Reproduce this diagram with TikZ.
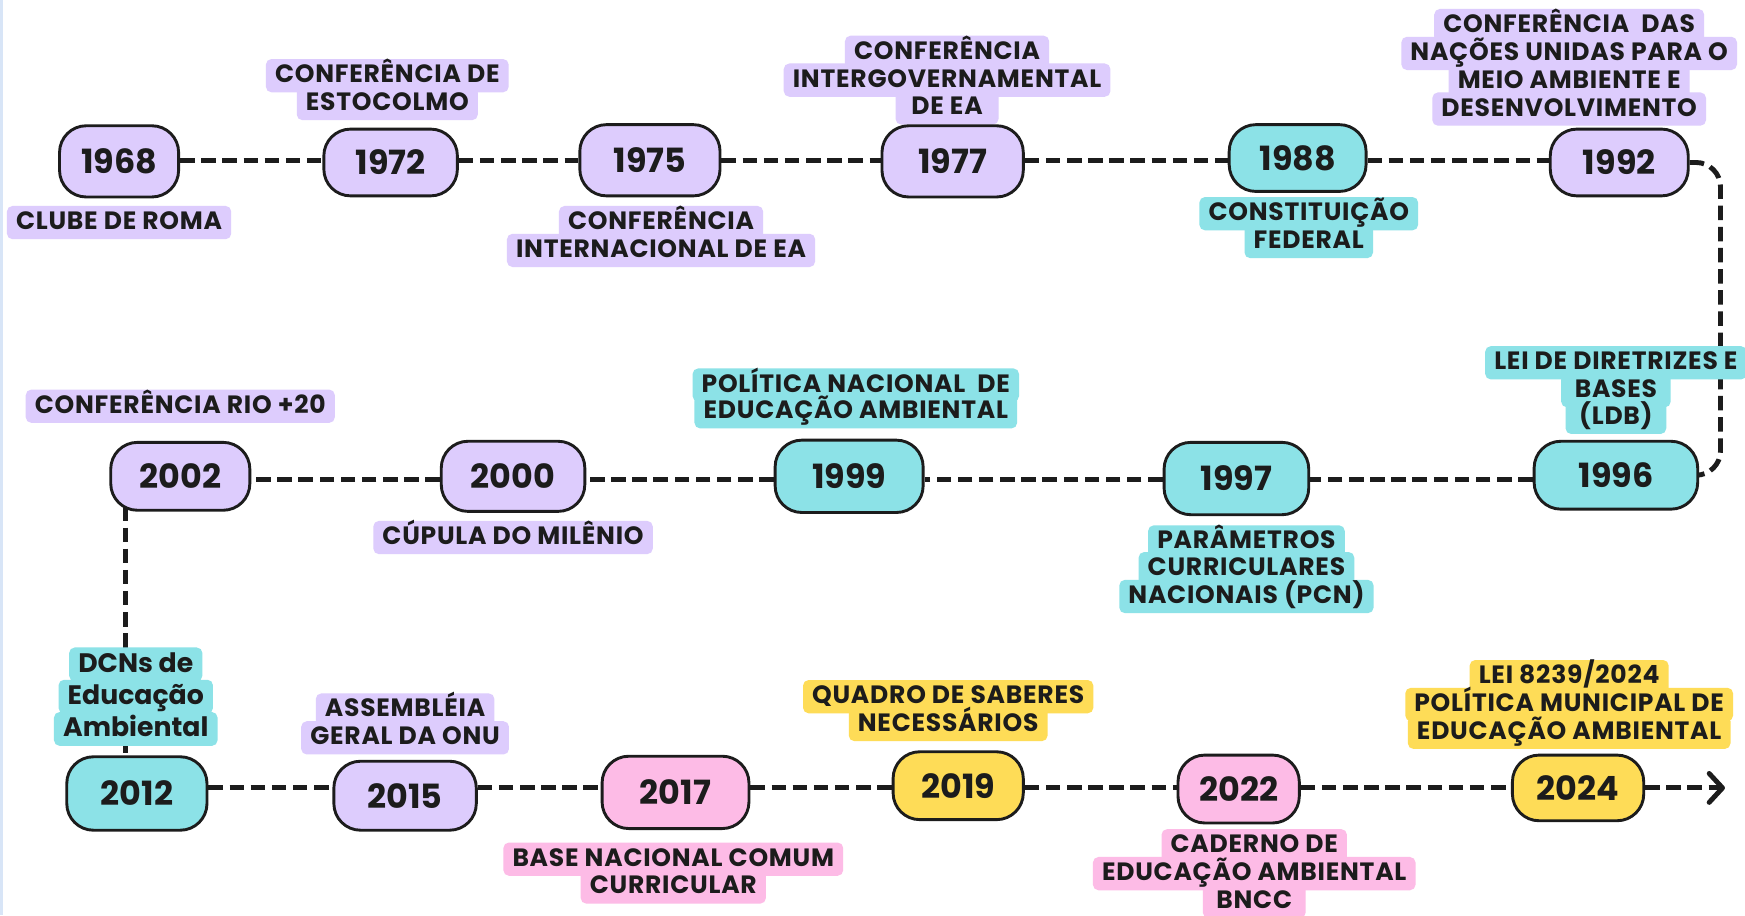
\documentclass[tikz,border=0pt]{standalone}
\usepackage{fontspec}
\setmainfont{Poppins}
\newfontfamily\labfont{Poppins}[LetterSpace=3]
\usetikzlibrary{arrows.meta}
\definecolor{ink}{HTML}{1C1C1C}
\definecolor{purp}{HTML}{DDCCFD}
\definecolor{cyanb}{HTML}{8CE2E7}
\definecolor{pinkb}{HTML}{FDBBE6}
\definecolor{yell}{HTML}{FEDC57}
\definecolor{edge}{HTML}{D8E5F7}
\pgfdeclarelayer{connlayer}
\pgfdeclarelayer{labbg}
\pgfsetlayers{connlayer,labbg,main}
\tikzset{
  yr/.style n args={3}{draw=ink, line width=2.6pt, fill=#1, rectangle,
    rounded corners=24pt, minimum width=#2pt, minimum height=#3pt, inner sep=0pt,
    font=\fontsize{30}{36}\selectfont\bfseries, text=ink},
  labtxt/.style={font=\labfont\fontsize{22.5}{25}\selectfont\bfseries, text=ink,
    inner xsep=8pt, inner ysep=5.5pt, text height=15.5pt, text depth=3pt},
  dcn/.style={font=\fontsize{24}{29}\selectfont\bfseries, text height=18pt, text depth=4pt, inner ysep=4pt},
  conn/.style={draw=ink, line width=4.4pt, dash pattern=on 13pt off 6pt},
}
\newcommand\labline[6][]{%
  \node[labtxt,#1] (#2) at (#4,#5) {#6};
  \begin{pgfonlayer}{labbg}
    \fill[#3, rounded corners=5pt] (#2.south west) rectangle (#2.north east);
  \end{pgfonlayer}%
}
\begin{document}
\begin{tikzpicture}[x=1pt,y=-1pt]
\useasboundingbox (0,0) rectangle (1568,822.2);
\begin{pgfonlayer}{connlayer}
  \fill[white] (0,0) rectangle (1568,822.2);
  \fill[edge] (0,0) rectangle (2.5,822.2);
\end{pgfonlayer}

% ---- row 1 ----
\node[yr={purp}{107}{64}] (y1968) at (107,145) {1968};
\node[yr={purp}{120}{60}] (y1972) at (351,146) {1972};
\node[yr={purp}{126}{64}] (y1975) at (584,144) {1975};
\node[yr={purp}{127}{64}] (y1977) at (856,145) {1977};
\node[yr={cyanb}{123}{60}] (y1988) at (1166,142) {1988};
\node[yr={purp}{124}{60}] (y1992) at (1455,146) {1992};

\labline{l1968a}{purp}{107}{200}{CLUBE DE ROMA}
\labline{l1972a}{purp}{348}{68}{CONFERÊNCIA DE}
\labline{l1972b}{purp}{348}{93}{ESTOCOLMO}
\labline{l1975a}{purp}{594}{200}{CONFERÊNCIA}
\labline{l1975b}{purp}{594}{225}{INTERNACIONAL DE EA}
\labline{l1977a}{purp}{851}{47}{CONFERÊNCIA}
\labline{l1977b}{purp}{851}{72}{INTERGOVERNAMENTAL}
\labline[inner xsep=14pt]{l1977c}{purp}{851}{97}{DE EA}
\labline{l1988a}{cyanb}{1176}{192}{CONSTITUIÇÃO}
\labline{l1988b}{cyanb}{1176}{217}{FEDERAL}
\labline{l1992a}{purp}{1410}{23}{CONFERÊNCIA\ \ DAS}
\labline{l1992b}{purp}{1410}{48}{NAÇÕES UNIDAS PARA O}
\labline{l1992c}{purp}{1410}{73}{MEIO AMBIENTE E}
\labline{l1992d}{purp}{1410}{98}{DESENVOLVIMENTO}

% ---- row 2 ----
\node[yr={cyanb}{147}{61}] (y1996) at (1452,427) {1996};
\node[yr={cyanb}{130}{65}] (y1997) at (1111,430) {1997};
\node[yr={cyanb}{133}{65}] (y1999) at (763,428) {1999};
\node[yr={purp}{129}{63}] (y2000) at (461,428) {2000};
\node[yr={purp}{125}{61}] (y2002) at (162,428) {2002};

\labline{l1996a}{cyanb}{1452}{326}{LEI DE DIRETRIZES E}
\labline[inner xsep=12pt]{l1996b}{cyanb}{1452}{351}{BASES}
\labline[inner xsep=12pt]{l1996c}{cyanb}{1452}{375}{(LDB)}
\labline{l1997a}{cyanb}{1120}{487}{PARÂMETROS}
\labline{l1997b}{cyanb}{1120}{511}{CURRICULARES}
\labline{l1997c}{cyanb}{1120}{536}{NACIONAIS (PCN)}
\labline{l1999a}{cyanb}{769}{346}{POLÍTICA NACIONAL\ \ DE}
\labline{l1999b}{cyanb}{769}{370}{EDUCAÇÃO AMBIENTAL}
\labline{l2000a}{purp}{461}{483}{CÚPULA DO MILÊNIO}
\labline{l2002a}{purp}{162}{365}{CONFERÊNCIA RIO +20}

% ---- row 3 ----
\node[yr={cyanb}{126}{66}] (y2012) at (123,713) {2012};
\node[yr={purp}{128}{62}] (y2015) at (364,715) {2015};
\node[yr={pinkb}{132}{65}] (y2017) at (607,712) {2017};
\node[yr={yell}{117}{61}] (y2019) at (861,706) {2019};
\node[yr={pinkb}{109}{61}] (y2022) at (1113,709) {2022};
\node[yr={yell}{118}{59}] (y2024) at (1418,708) {2024};

\labline[dcn]{l2012a}{cyanb}{122}{597}{DCNs de}
\labline[dcn]{l2012b}{cyanb}{122}{626}{Educação}
\labline[dcn]{l2012c}{cyanb}{122}{655}{Ambiental}
\labline{l2015a}{purp}{364}{638}{ASSEMBLÉIA}
\labline{l2015b}{purp}{364}{663}{GERAL DA ONU}
\labline{l2017a}{pinkb}{605}{772}{BASE NACIONAL COMUM}
\labline{l2017b}{pinkb}{605}{797}{CURRICULAR}
\labline{l2019a}{yell}{852}{626}{QUADRO DE SABERES}
\labline{l2019b}{yell}{852}{651}{NECESSÁRIOS}
\labline{l2022a}{pinkb}{1127}{760}{CADERNO DE}
\labline{l2022b}{pinkb}{1127}{785}{EDUCAÇÃO AMBIENTAL}
\labline[inner xsep=12pt]{l2022c}{pinkb}{1127}{810}{BNCC}
\labline{l2024a}{yell}{1410}{608}{LEI 8239/2024}
\labline{l2024b}{yell}{1410}{633}{POLÍTICA MUNICIPAL DE}
\labline{l2024c}{yell}{1410}{658}{EDUCAÇÃO AMBIENTAL}

% ---- connectors ----
\coordinate (row1) at (0,144);
\coordinate (row2) at (0,431);
\coordinate (row3) at (0,708);
\coordinate (cTurn) at (1546,300);
\coordinate (c2002b) at (113,455);
\coordinate (arrEnd) at (1550,708);
\begin{pgfonlayer}{connlayer}
  \draw[conn] (y1968.east |- row1) -- (y1972.west |- row1);
  \draw[conn] (y1972.east |- row1) -- (y1975.west |- row1);
  \draw[conn] (y1975.east |- row1) -- (y1977.west |- row1);
  \draw[conn] (y1977.east |- row1) -- (y1988.west |- row1);
  \draw[conn] (y1988.east |- row1) -- (y1992.west |- row1);
  \draw[conn, rounded corners=22pt] (y1992.east) -| (cTurn) |- (y1996.east);
  \draw[conn] (y1996.west |- row2) -- (y1997.east |- row2);
  \draw[conn] (y1997.west |- row2) -- (y1999.east |- row2);
  \draw[conn] (y1999.west |- row2) -- (y2000.east |- row2);
  \draw[conn] (y2000.west |- row2) -- (y2002.east |- row2);
  \draw[conn] (c2002b) -- (c2002b |- y2012.north);
  \draw[conn] (y2012.east |- row3) -- (y2015.west |- row3);
  \draw[conn] (y2015.east |- row3) -- (y2017.west |- row3);
  \draw[conn] (y2017.east |- row3) -- (y2019.west |- row3);
  \draw[conn] (y2019.east |- row3) -- (y2022.west |- row3);
  \draw[conn] (y2022.east |- row3) -- (y2024.west |- row3);
  \draw[conn, -{Straight Barb[length=12pt,width=26pt,line width=4.4pt,round]}] (y2024.east |- row3) -- (arrEnd);
\end{pgfonlayer}
\end{tikzpicture}
\end{document}
